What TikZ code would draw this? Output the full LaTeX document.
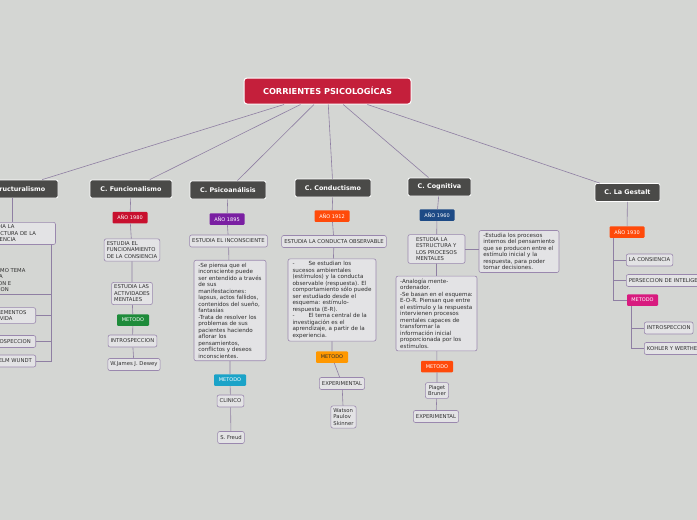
\documentclass[tikz,border=0pt]{standalone}
\usepackage{fontspec}
\setmainfont{DejaVu Sans}
\definecolor{fondG}{HTML}{D4D6D3}
\definecolor{lienL}{HTML}{8F7FA3}
\definecolor{bordB}{HTML}{9A88AE}
\definecolor{fondB}{HTML}{E3E3E5}
\definecolor{texteT}{HTML}{2E2E2E}
\definecolor{rougeR}{HTML}{C41F3B}
\definecolor{grisC}{HTML}{4A4A48}
\definecolor{rougeA}{HTML}{C8102E}
\definecolor{violetA}{HTML}{7A1FA2}
\definecolor{orangeA}{HTML}{FF4A0A}
\definecolor{bleuA}{HTML}{1D4A85}
\definecolor{verteM}{HTML}{1E8B3A}
\definecolor{bleuM}{HTML}{1AA3C8}
\definecolor{orangeM}{HTML}{FF9800}
\definecolor{roseM}{HTML}{D81B7F}
\newcommand\petit{\fontsize{5.3}{6.5}\selectfont}
\newcommand\corps{\fontsize{5.6}{6.5}\selectfont}

\begin{document}
\begin{tikzpicture}[x=1pt, y=-1pt,
    racine/.style={draw=white, line width=1pt, rounded corners=3pt, fill=rougeR, text=white,
                   font=\fontsize{8.2}{9}\selectfont\bfseries, minimum width=167pt, minimum height=26pt},
    courant/.style={draw=white, line width=0.8pt, rounded corners=2pt, fill=grisC, text=white,
                    font=\fontsize{6.4}{7}\selectfont\bfseries, minimum height=18pt},
    annee/.style={rounded corners=1pt, text=white, font=\fontsize{5}{6}\selectfont,
                  minimum width=35pt, minimum height=11.5pt, inner sep=1pt},
    boite/.style={draw=bordB, line width=0.6pt, rounded corners=2pt, fill=fondB, text=texteT,
                  font=\petit, align=left, inner sep=2.6pt, minimum height=12pt},
    texte/.style={boite, font=\corps},
    lien/.style={draw=lienL, line width=0.6pt}
]
    \useasboundingbox (0,0) rectangle (697,520);
    \fill[fondG] (0,0) rectangle (697,520);
    \clip (0,0) rectangle (697,520);

    \node[racine] (racine) at (327.5,91) {CORRIENTES PSICOLOGÍCAS};

    \node[courant, minimum width=92pt] (estr) at (12,189) {C. Estructuralismo};
    \node[courant, minimum width=82pt] (func) at (131,189) {C. Funcionalismo};
    \node[courant, minimum width=76pt] (psico) at (228,190) {C. Psicoanálisis};
    \node[courant, minimum width=76pt] (cond) at (333,188) {C. Conductismo};
    \node[courant, minimum width=63pt] (cogn) at (439.5,187) {C. Cognitiva};
    \node[courant, minimum width=65pt] (gest) at (627.5,192.5) {C. La Gestalt};
    \foreach \c in {estr,func,psico,cond,cogn,gest}
        \draw[lien] (racine) -- (\c);

    % estructuralismo
    \node[boite, anchor=north west, text width=70pt] (e-est) at (-20,222) {ESTUDIA LA\\ESTRUCTURA DE LA\\CONSIENCIA};
    \node[font=\petit, text=texteT, align=left, anchor=south west, inner sep=2pt] (e-tema) at (-27,294)
        {TIENE COMO TEMA\\LA FORMA\\SENSACION E\\PERCEPCION};
    \node[boite, anchor=east, text width=51pt] (e-elem) at (36,315.5) {LOS ELEMENTOS\\DE LA VIDA};
    \node[boite, anchor=east, text width=46pt] (e-intro) at (36,341.5) {INTROSPECCION};
    \node[boite, anchor=east, text width=48pt] (e-aut) at (36,361) {WILHELM WUNDT};
    \coordinate (e-tronc) at ([xshift=-5pt]e-est.south east);
    \draw[lien] (estr) -- (estr |- e-est.north);
    \draw[lien] (e-tronc) |- (e-tema.south west);
    \foreach \c in {e-elem,e-intro,e-aut}
        \draw[lien] (e-tronc) |- (\c);

    % funcionalismo
    \node[annee, fill=rougeA] (f-ano) at (130,217.5) {AÑO 1980};
    \node[boite] (f-est) at (132,250) {ESTUDIA EL\\FUNCIONAMIENTO\\DE LA CONSIENCIA};
    \node[boite] (f-act) at (132,293.5) {ESTUDIA LAS\\ACTIVIDADES\\MENTALES};
    \node[annee, fill=verteM, minimum width=32pt] (f-met) at (133,320) {METODO};
    \node[boite] (f-intro) at (132.5,341) {INTROSPECCION};
    \node[boite] (f-aut) at (134,364.5) {W.James J. Dewey};
    \draw[lien] (func) -- (f-ano) -- (f-est) -- (f-act) -- (f-met) -- (f-intro) -- (f-aut);

    % psicoanalisis
    \node[annee, fill=violetA] (p-ano) at (227,219) {AÑO 1895};
    \node[boite] (p-est) at (228.5,241) {ESTUDIA EL INCONSCIENTE};
    \node[texte, minimum width=72pt] (p-txt) at (230,310.5) {-Se piensa que el\\inconsciente puede\\ser entendido a través\\de sus\\manifestaciones:\\lapsus, actos fallidos,\\contenidos del sueño,\\fantasías\\-Trata de resolver los\\problemas de sus\\pacientes haciendo\\aflorar los\\pensamientos,\\conflictos y deseos\\inconscientes.};
    \node[annee, fill=bleuM, minimum width=32pt] (p-met) at (230,380) {METODO};
    \node[boite] (p-clin) at (230.5,401) {CLINICO};
    \node[boite] (p-aut) at (231,437.5) {S. Freud};
    \draw[lien] (psico) -- (p-ano) -- (p-est) -- (p-txt) -- (p-met) -- (p-clin) -- (p-aut);

    % conductismo
    \node[annee, fill=orangeA] (cd-ano) at (332,216) {AÑO 1912};
    \node[boite] (cd-est) at (334,241.5) {ESTUDIA LA CONDUCTA OBSERVABLE};
    \node[texte, minimum width=88pt] (cd-txt) at (332,300) {-\hspace{14pt}Se estudian los\\sucesos ambientales\\(estímulos) y la conducta\\observable (respuesta). El\\comportamiento sólo puede\\ser estudiado desde el\\esquema: estímulo-\\respuesta (E-R).\\-\hspace{14pt}El tema central de la\\investigación es el\\aprendizaje, a partir de la\\experiencia.};
    \node[annee, fill=orangeM, text=texteT, minimum width=32pt] (cd-met) at (332,357) {METODO};
    \node[boite] (cd-exp) at (342,383.5) {EXPERIMENTAL};
    \node[boite] (cd-aut) at (343.5,417) {Watson\\Paulov\\Skinner};
    \draw[lien] (cond) -- (cd-ano) -- (cd-est) -- (cd-txt) -- (cd-met) -- (cd-exp) -- (cd-aut);

    % cognitiva
    \node[annee, fill=bleuA] (cg-ano) at (437,215) {AÑO 1960};
    \node[boite, minimum width=57pt] (cg-est) at (436.5,249) {ESTUDIA LA\\ESTRUCTURA Y\\LOS PROCESOS\\MENTALES};
    \node[texte, minimum width=80pt] (cg-der) at (519,251.5) {-Estudia los procesos\\internos del pensamiento\\que se producen entre el\\estímulo inicial y la\\respuesta, para poder\\tomar decisiones.};
    \node[texte, minimum width=81pt] (cg-txt) at (436.5,313.5) {-Analogía mente-\\ordenador.\\-Se basan en el esquema:\\E-O-R. Piensan que entre\\el estímulo y la respuesta\\intervienen procesos\\mentales capaces de\\transformar la\\información inicial\\proporcionada por los\\estímulos.};
    \node[annee, fill=orangeA, minimum width=32pt] (cg-met) at (437,366.5) {METODO};
    \node[boite, align=center] (cg-aut) at (437,390.5) {Piaget\\Bruner};
    \node[boite] (cg-exp) at (436,416.5) {EXPERIMENTAL};
    \draw[lien] (cogn) -- (cg-ano) -- (cg-est) -- (cg-txt) -- (cg-met) -- (cg-aut) -- (cg-exp);
    \draw[lien] (cg-est.east) -- (cg-est.east -| cg-der.west);

    % gestalt
    \node[annee, fill=orangeA] (g-ano) at (627,232) {AÑO 1930};
    \node[boite, anchor=west] (g-cons) at (626,260) {LA CONSIENCIA};
    \node[boite, anchor=west] (g-pers) at (626,280.5) {PERSECCION DE INTELIGENCIA};
    \node[annee, fill=roseM, minimum width=31pt] (g-met) at (642.5,300) {METODO};
    \node[boite, anchor=west] (g-intro) at (644,328) {INTROSPECCION};
    \node[boite, anchor=west] (g-aut) at (644,348.5) {KOHLER Y WERTHEIMER};
    \coordinate (g-tronc) at ([xshift=-14pt]g-ano.south);
    \coordinate (g-branche) at ([xshift=-11pt]g-met.south);
    \draw[lien] (gest) -- (g-ano);
    \foreach \c in {g-cons,g-pers,g-met}
        \draw[lien] (g-tronc) |- (\c);
    \foreach \c in {g-intro,g-aut}
        \draw[lien] (g-branche) |- (\c);
\end{tikzpicture}
\end{document}
